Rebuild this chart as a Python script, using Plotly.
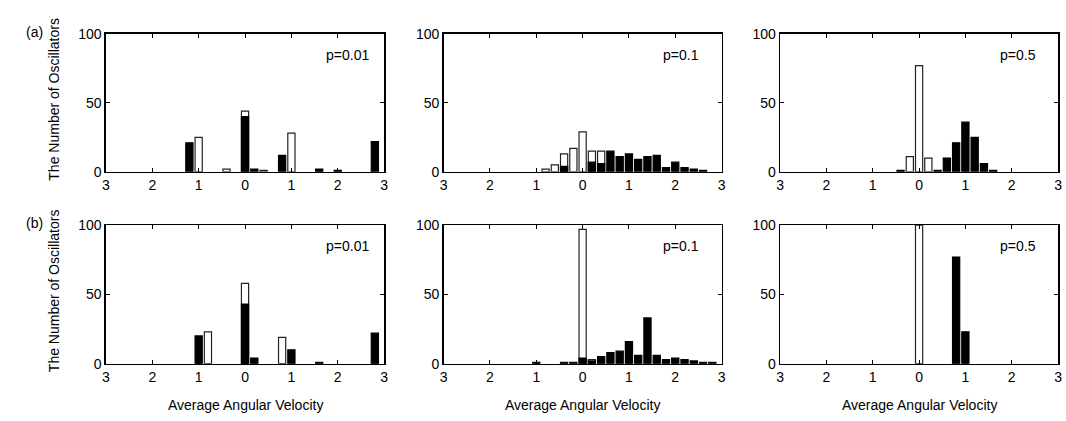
import plotly.graph_objects as go

W, H = 1066, 421

# ---- data (bin centres, counts) ----
p_labels = ["p=0.01", "p=0.1", "p=0.5"]
row_labels = ["(a)", "(b)"]
tick_vals = [-3, -2, -1, 0, 1, 2, 3]
tick_text = ["3", "2", "1", "0", "1", "2", "3"]

# row (a)
a1_white_x = [-1.0, -0.4, 0.0, 0.4, 1.0]
a1_white_y = [25, 2, 44, 1, 28]
a1_black_x = [-1.2, 0.0, 0.2, 0.8, 1.6, 2.0, 2.8]
a1_black_y = [21, 40, 2, 12, 2, 1, 22]

a2_white_x = [-0.8, -0.6, -0.4, -0.2, 0.0, 0.2, 0.4]
a2_white_y = [2, 5, 13, 17, 29, 15, 15]
a2_black_x = [-0.4, 0.2, 0.4, 0.6, 0.8, 1.0, 1.2, 1.4, 1.6, 1.8, 2.0, 2.2, 2.4, 2.6]
a2_black_y = [4, 7, 6, 15, 11, 13, 9, 11, 12, 3, 7, 3, 2, 1]

a3_white_x = [-0.2, 0.0, 0.2]
a3_white_y = [11, 77, 10]
a3_black_x = [-0.4, 0.4, 0.6, 0.8, 1.0, 1.2, 1.4, 1.6]
a3_black_y = [1, 1, 10, 21, 36, 25, 6, 1]

# row (b)
b1_white_x = [-0.8, 0.0, 0.8]
b1_white_y = [23, 58, 19]
b1_black_x = [-1.0, 0.0, 0.2, 1.0, 1.6, 2.8]
b1_black_y = [20, 43, 4, 10, 1, 22]

b2_white_x = [0.0, 0.2]
b2_white_y = [97, 3]
b2_black_x = [-1.0, -0.4, -0.2, 0.0, 0.2, 0.4, 0.6, 0.8, 1.0, 1.2, 1.4, 1.6, 1.8, 2.0, 2.2, 2.4, 2.6, 2.8]
b2_black_y = [1, 1, 1, 4, 2, 5, 8, 9, 16, 6, 33, 6, 3, 4, 3, 2, 1, 1]

b3_white_x = [0.0]
b3_white_y = [100]
b3_black_x = [0.8, 1.0]
b3_black_y = [77, 23]

panels = [
    [(a1_white_x, a1_white_y, a1_black_x, a1_black_y),
     (a2_white_x, a2_white_y, a2_black_x, a2_black_y),
     (a3_white_x, a3_white_y, a3_black_x, a3_black_y)],
    [(b1_white_x, b1_white_y, b1_black_x, b1_black_y),
     (b2_white_x, b2_white_y, b2_black_x, b2_black_y),
     (b3_white_x, b3_white_y, b3_black_x, b3_black_y)],
]

# ---- layout geometry (pixels) ----
col_px = [(102.7, 383.0), (443.0, 723.0), (782.0, 1062.0)]
row_px = [(27.0, 170.3), (225.7, 369.7)]
FONT = "Liberation Sans, Arial, Helvetica, sans-serif"
FS = 14
BAR_W = 0.155

fig = go.Figure()
annotations = []
layout_axes = {}

idx = 0
for r, row in enumerate(panels):
    for c, (wx, wy, bx, by) in enumerate(row):
        idx += 1
        xa = "x" if idx == 1 else f"x{idx}"
        ya = "y" if idx == 1 else f"y{idx}"
        fig.add_trace(go.Bar(
            x=wx, y=wy, width=BAR_W, xaxis=xa, yaxis=ya,
            marker=dict(color="white", line=dict(color="#222222", width=1.2)),
            showlegend=False, hoverinfo="x+y"))
        fig.add_trace(go.Bar(
            x=bx, y=by, width=BAR_W, xaxis=xa, yaxis=ya,
            marker=dict(color="black", line=dict(color="black", width=1.2)),
            showlegend=False, hoverinfo="x+y"))
        x0, x1 = col_px[c]
        y0, y1 = row_px[r]
        axis_common = dict(
            showline=True, linecolor="black", linewidth=1.5, mirror="ticks",
            ticks="inside", ticklen=4, tickwidth=1, tickcolor="black",
            showgrid=False, zeroline=False,
            tickfont=dict(family=FONT, size=FS, color="black"), fixedrange=True)
        xkey = "xaxis" if idx == 1 else f"xaxis{idx}"
        ykey = "yaxis" if idx == 1 else f"yaxis{idx}"
        layout_axes[xkey] = dict(
            axis_common, domain=[x0 / W, x1 / W], range=[-3, 3],
            tickmode="array", tickvals=tick_vals, ticktext=tick_text,
            ticklabeloverflow="allow", anchor=ya)
        layout_axes[ykey] = dict(
            axis_common, domain=[1 - y1 / H, 1 - y0 / H], range=[0, 100],
            tickmode="array", tickvals=[0, 50, 100], anchor=xa)
        annotations.append(dict(
            x=1.7, y=85, xref=xa, yref=ya, text=p_labels[c], showarrow=False,
            xanchor="left", yanchor="middle",
            font=dict(family=FONT, size=FS, color="black")))
        if r == 1:
            annotations.append(dict(
                x=(x0 + x1) / 2 / W, y=1 - 413 / H, xref="paper", yref="paper",
                text="Average Angular Velocity", showarrow=False,
                xanchor="center", yanchor="middle",
                font=dict(family=FONT, size=FS, color="black")))
    y0, y1 = row_px[r]
    annotations.append(dict(
        x=50 / W, y=1 - ((y0 + y1) / 2 - 4) / H, xref="paper", yref="paper",
        text="The Number of Oscillators", textangle=-90, showarrow=False,
        xanchor="center", yanchor="middle",
        font=dict(family=FONT, size=FS, color="black")))
    annotations.append(dict(
        x=31 / W, y=1 - (y0 - 2) / H, xref="paper", yref="paper",
        text=row_labels[r], showarrow=False, xanchor="center", yanchor="middle",
        font=dict(family=FONT, size=FS, color="black")))

fig.update_layout(
    width=W, height=H, margin=dict(l=0, r=0, t=0, b=0),
    paper_bgcolor="white", plot_bgcolor="white",
    barmode="overlay", bargap=0, annotations=annotations,
    font=dict(family=FONT, size=FS, color="black"),
    hovermode=False,
    **layout_axes)

fig.write_html(
    "out.html",
    config={"displayModeBar": False, "staticPlot": True},
    post_script="document.body.style.margin='0';document.body.style.overflow='hidden';")
